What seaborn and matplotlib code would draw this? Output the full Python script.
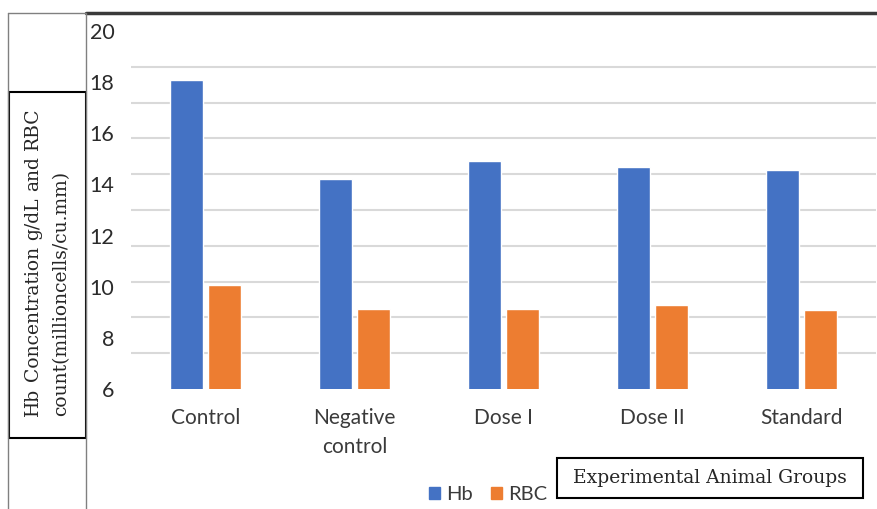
import matplotlib.pyplot as plt
import matplotlib.patches as mpatches
from matplotlib.lines import Line2D
import numpy as np
import pandas as pd
import seaborn as sns

# values
groups = ["Control", "Negative\ncontrol", "Dose I", "Dose II", "Standard"]
hb = [18.1, 14.2, 14.9, 14.7, 14.55]
rbc = [10.05, 9.13, 9.12, 9.28, 9.1]
series = ["Hb", "RBC"]
colors = ["#4472C4", "#ED7D31"]

df = pd.DataFrame({
    "group": groups * 2,
    "value": hb + rbc,
    "series": ["Hb"] * len(groups) + ["RBC"] * len(groups),
})

W, H = 877, 509
sns.set_style("white")
plt.rcParams['font.family'] = ['Lato', 'DejaVu Sans']
SERIF = 'DejaVu Serif'

fig = plt.figure(figsize=(W / 100, H / 100), dpi=100)


def fx(px):
    return px / W


def fy(py):
    return 1 - py / H


ax = fig.add_axes([fx(131), fy(389), (876 - 131) / W, (389 - 31) / H])
sns.barplot(data=df, x="group", y="value", hue="series", order=groups,
            hue_order=series, palette=colors, saturation=1,
            width=0.51, gap=0.12, ax=ax)
ax.set_xlim(-0.5, 4.5)
ax.set_ylim(6, 20)
ax.set_yticks(range(6, 21, 2))
ax.set_yticks(np.linspace(6, 20, 11), minor=True)
ax.grid(False)
ax.yaxis.grid(True, which='minor', color='#d9d9d9', lw=1.5)
ax.set_axisbelow(True)
ax.tick_params(axis='y', which='both', length=0, pad=12, labelsize=15.5,
               labelcolor='#2b2b2b')
ax.tick_params(axis='x', length=0, pad=14, labelsize=15, labelcolor='#3a3a3a')
for t in ax.get_xticklabels():
    t.set_linespacing(1.55)
sns.despine(ax=ax, left=True, bottom=True)
ax.set_xlabel("")
ax.set_ylabel("")

# legend at the bottom
ax.get_legend().remove()
handles = [mpatches.Patch(color=c) for c in colors]
fig.legend(handles, series, loc='center', bbox_to_anchor=(fx(488), fy(495)),
           ncol=2, frameon=False, handlelength=0.55, handleheight=0.55,
           handletextpad=0.3, columnspacing=0.9, fontsize=14.5,
           labelcolor='#3a3a3a')

# frame lines
fig.add_artist(Line2D([fx(86), 1], [fy(13), fy(13)], color='#3a3a3a', lw=2.5))
fig.add_artist(Line2D([fx(8), fx(86)], [fy(13), fy(13)], color='#808080', lw=1))
fig.add_artist(Line2D([fx(8), fx(8)], [fy(13), 0], color='#808080', lw=1))
fig.add_artist(Line2D([fx(86), fx(86)], [fy(13), 0], color='#808080', lw=1))

# y label box
fig.add_artist(mpatches.Rectangle((fx(9), fy(438)), (86 - 9) / W, (438 - 92) / H,
                                  fill=False, ec='black', lw=1.5,
                                  transform=fig.transFigure))
fs = 13.5
renderer = fig.canvas.get_renderer()
words = ["Hb", "Concentration", "g/dL", "and", "RBC"]
texts = [fig.text(0, 0, w, rotation=90, fontsize=fs, family=SERIF,
                  ha='center', va='bottom') for w in words]
lens = [t.get_window_extent(renderer).height for t in texts]
gap = ((416 - 107) - sum(lens)) / (len(words) - 1)
cursor = 416
for t, ln in zip(texts, lens):
    t.set_position((fx(33), fy(cursor)))
    cursor -= ln + gap
fig.text(fx(61), fy(416), "count(millioncells/cu.mm)", rotation=90,
         fontsize=fs, family=SERIF, ha='center', va='bottom')

# x label box
fig.add_artist(mpatches.Rectangle((fx(557), fy(498)), (863 - 557) / W, (498 - 458) / H,
                                  fill=False, ec='black', lw=1.5,
                                  transform=fig.transFigure))
fig.text(fx(710), fy(478), "Experimental Animal Groups", fontsize=fs,
         family=SERIF, ha='center', va='center')

fig.savefig("out.png", dpi=100)
